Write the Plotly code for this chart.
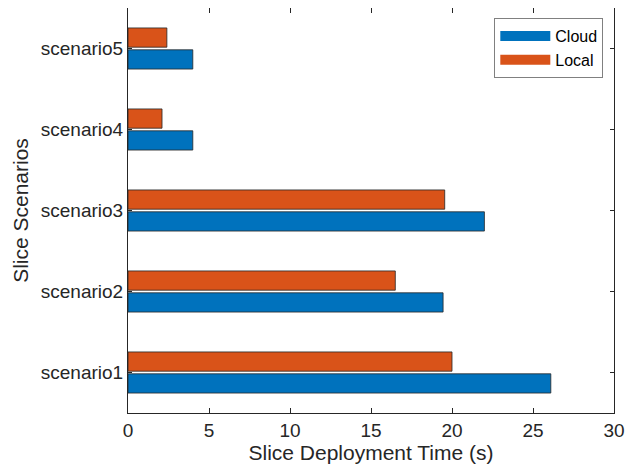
import plotly.graph_objects as go

scenarios = ["scenario1", "scenario2", "scenario3", "scenario4", "scenario5"]
cloud = [26.1, 19.45, 22.0, 4.0, 4.0]
local = [20.0, 16.5, 19.55, 2.1, 2.4]
x_ticks = [0, 5, 10, 15, 20, 25, 30]

BLUE = "#0072BD"
ORANGE = "#D95319"
FONT = "Liberation Sans, Arial, sans-serif"
EDGE = dict(color="#262626", width=0.8)

fig = go.Figure()
fig.add_trace(go.Bar(y=scenarios, x=cloud, name="Cloud", orientation="h", showlegend=False,
                     legendgroup="c", marker=dict(color=BLUE, line=EDGE)))
fig.add_trace(go.Bar(y=scenarios, x=local, name="Local", orientation="h", showlegend=False,
                     legendgroup="l", marker=dict(color=ORANGE, line=EDGE)))
# legend swatches (wide rectangles like the original)
fig.add_trace(go.Scatter(x=[None], y=[None], mode="lines", name="Cloud", legendgroup="c",
                         line=dict(color=BLUE, width=15)))
fig.add_trace(go.Scatter(x=[None], y=[None], mode="lines", name="Local", legendgroup="l",
                         line=dict(color=ORANGE, width=15)))

axis_common = dict(showline=True, linecolor="#262626", linewidth=1, mirror="ticks",
                   ticks="inside", tickcolor="#262626", showgrid=False, zeroline=False,
                   automargin=False,
                   tickfont=dict(family=FONT, size=19, color="#262626"))

fig.update_layout(
    width=634, height=474,
    barmode="group", bargap=0.46, bargroupgap=0.12,
    plot_bgcolor="white", paper_bgcolor="white",
    margin=dict(l=120, r=28, t=0, b=69),
    font=dict(family=FONT, color="#262626"),
    xaxis=dict(range=[0, 30], tickvals=x_ticks, ticklen=5,
               title=dict(text="Slice Deployment Time (s)", font=dict(family=FONT, size=21, color="#262626"), standoff=4),
               **axis_common),
    yaxis=dict(range=[-0.5, 4.5], ticklen=4, categoryorder="array", categoryarray=scenarios,
               title=dict(text="Slice Scenarios", font=dict(family=FONT, size=21, color="#262626"), standoff=6),
               **axis_common),
    legend=dict(x=0.978, y=0.975, xanchor="right", yanchor="top", traceorder="normal",
                bordercolor="#808080", borderwidth=1, bgcolor="white",
                font=dict(family=FONT, size=16, color="#000000"),
                tracegroupgap=0, itemwidth=50),
    showlegend=True,
)

fig.write_html("out.html")
